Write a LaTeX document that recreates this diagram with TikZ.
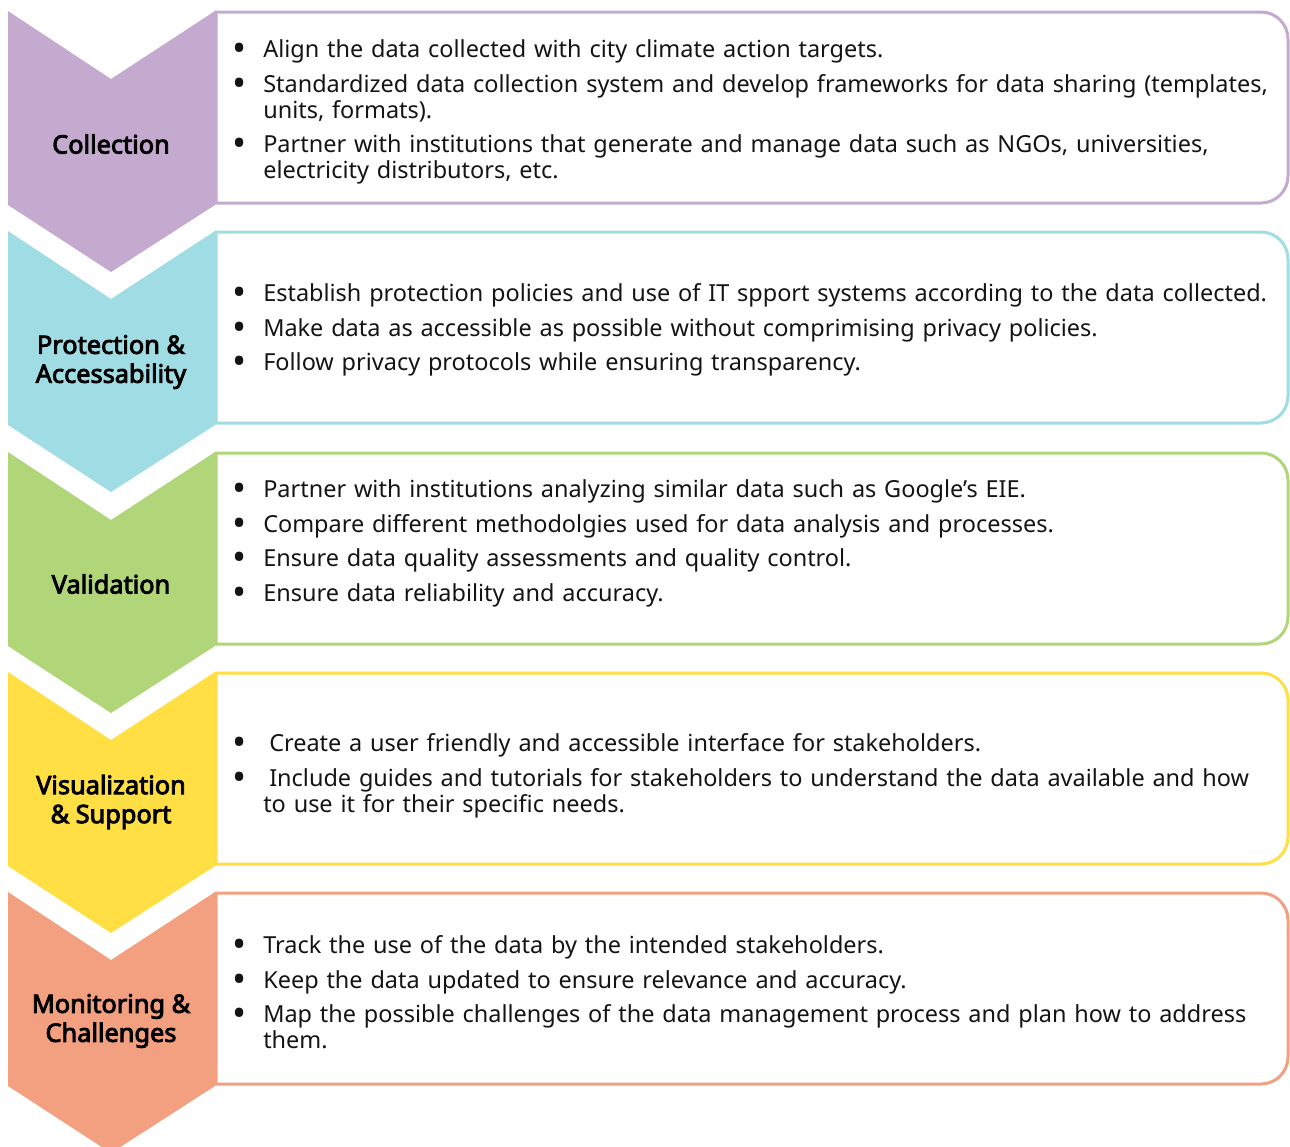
\documentclass[tikz,border=0pt]{standalone}
\usepackage{graphicx}
\usepackage{fontspec}
\setmainfont{Noto Sans}
\newfontfamily\titlefont{Noto Sans}[FakeBold=3.5]

\definecolor{stagepurple}{HTML}{C4AACE}
\definecolor{stageblue}{HTML}{A0DCE3}
\definecolor{stagegreen}{HTML}{B1D67A}
\definecolor{stageyellow}{HTML}{FFDF43}
\definecolor{stagesalmon}{HTML}{F3A080}
\definecolor{inktext}{HTML}{141414}

% one bullet point with a hanging indent
\newlength\bulletind
\setlength\bulletind{21.75pt}
\newcommand\bpoint[1]{\par\noindent\hangindent=\bulletind\hangafter=1%
  \makebox[\bulletind][l]{\hspace{-1.2pt}\raisebox{-3pt}{\scalebox{1.6}{•}}}#1}
\newcommand\wrapline{\hfill\break}

\tikzset{
  chevron/.style={fill=#1, draw=none},
  panel/.style={draw=#1, line width=2.25pt, fill=white},
  stagetitle/.style={font=\titlefont\fontsize{19}{21.75}\selectfont, align=center, inner sep=0pt, text=black},
  pointlist/.style={anchor=west, inner sep=0pt, text width=800pt, text=inktext,
    font=\fontsize{17.6}{19.5}\selectfont, execute at begin node={\setlength\parskip{6.4pt}}},
}

% chevron plus rounded panel for one stage; #1 = top edge (px from top), #2 = colour
\newcommand\stageshape[2]{%
  \fill[chevron=#2] (8,-#1) -- (111,-#1-68) -- (215,-#1) -- (215,-#1-194)
       -- (111,-#1-261) -- (8,-#1-194) -- cycle;
  \draw[panel=#2] (216,-#1-1) -- (1261,-#1-1) arc[start angle=90,end angle=0,radius=27]
       -- (1288,-#1-165) arc[start angle=0,end angle=-90,radius=27]
       -- (216,-#1-192) -- cycle;
}

\begin{document}
\begin{tikzpicture}[x=0.75pt,y=0.75pt]
  \useasboundingbox (0,0) rectangle (1290,-1147);
  \clip (0,0) rectangle (1290,-1147);

  \stageshape{11}{stagepurple}
  \stageshape{231}{stageblue}
  \stageshape{452}{stagegreen}
  \stageshape{672}{stageyellow}
  \stageshape{892}{stagesalmon}

  % stage titles
  \node[stagetitle] (collection) at (111,-144) {Collection};
  \node[stagetitle] (protection) at (111,-362) {Protection \&\\Accessability};
  \node[stagetitle] (validation) at (111,-584) {Validation};
  \node[stagetitle] (visualization) at (111,-802) {Visualization\\\& Support};
  \node[stagetitle] (monitoring) at (111,-1021) {Monitoring \&\\Challenges};

  % action points
  \node[pointlist] (collectionpts) at (234,-104) {%
    \bpoint{Align the data collected with city climate action targets.}
    \bpoint{Standardized data collection system and develop frameworks for data sharing (templates,\wrapline units, formats).}
    \bpoint{Partner with institutions that generate and manage data such as NGOs, universities,\wrapline electricity distributors, etc.}\par};

  \node[pointlist] (protectionpts) at (234,-322) {%
    \bpoint{Establish protection policies and use of IT spport systems according to the data collected.}
    \bpoint{Make data as accessible as possible without comprimising privacy policies.}
    \bpoint{Follow privacy protocols while ensuring transparency.}\par};

  \node[pointlist] (validationpts) at (234,-535) {%
    \bpoint{Partner with institutions analyzing similar data such as Google’s EIE.}
    \bpoint{Compare different methodolgies used for data analysis and processes.}
    \bpoint{Ensure data quality assessments and quality control.}
    \bpoint{Ensure data reliability and accuracy.}\par};

  \node[pointlist] (visualizationpts) at (234,-767.5) {%
    \bpoint{\hspace{4.5pt}Create a user friendly and accessible interface for stakeholders.}
    \bpoint{\hspace{4.5pt}Include guides and tutorials for stakeholders to understand the data available and how\wrapline to use it for their specific needs.}\par};

  \node[pointlist] (monitoringpts) at (234,-984) {%
    \bpoint{Track the use of the data by the intended stakeholders.}
    \bpoint{Keep the data updated to ensure relevance and accuracy.}
    \bpoint{Map the possible challenges of the data management process and plan how to address\wrapline them.}\par};
\end{tikzpicture}
\end{document}
